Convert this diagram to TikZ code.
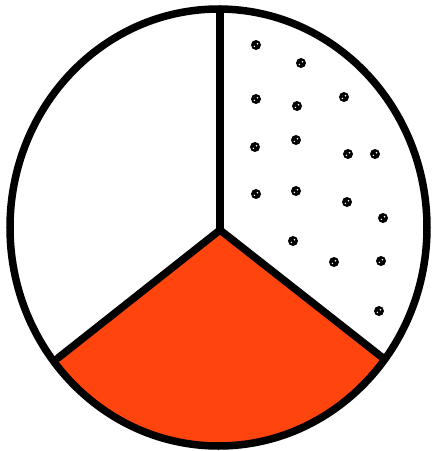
\documentclass[tikz,border=0pt]{standalone}
\usetikzlibrary{calc}
\definecolor{pieorange}{RGB}{255,69,13}
\begin{document}
\begin{tikzpicture}[x=1pt,y=-1pt,
  outline/.style={draw=black,line width=7.5pt},
  divider/.style={draw=black,line width=7.5pt,line cap=round},
  speck/.style={fill=black}]
\useasboundingbox (0,0) rectangle (432,451);
\fill[white] (0,0) rectangle (432,451);
\coordinate (c) at (220,230);
\coordinate (top) at (220,9);
\coordinate (ll) at (58,358);
\coordinate (lr) at (383,358);
\begin{scope}
  \clip (218.5,227.5) ellipse [x radius=208.5, y radius=218.5];
  \fill[pieorange] (c) -- ($(c)!1.6!(ll)$) -- (-40,470) -- (470,470) -- ($(c)!1.6!(lr)$) -- cycle;
\end{scope}
\foreach \px/\py in {256/45,301/63,256/99,297/106,344/97,255/147,296/140,348/154,375/154,256/194,296/191,347/202,383/218,293/241,334/262,381/261,379/311}{
  \fill[speck] (\px,\py) circle [radius=5pt];
  \fill[white] (\px+1.5,\py-1.2) circle [radius=0.9pt];
  \fill[white] (\px-1.6,\py+1.4) circle [radius=0.8pt];
}
\draw[divider] (c) -- (top);
\draw[divider] (c) -- (ll);
\draw[divider] (c) -- (lr);
\draw[outline] (218.5,227.5) ellipse [x radius=208.5, y radius=218.5];
\end{tikzpicture}
\end{document}
